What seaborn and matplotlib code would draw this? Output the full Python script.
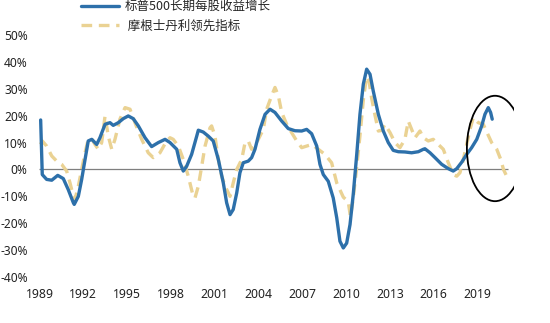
import matplotlib
matplotlib.use("Agg")
import matplotlib.pyplot as plt
from matplotlib.patches import Ellipse
import seaborn as sns
import pandas as pd

# S&P 500 long-term EPS growth (yoy, %)
eps_years = [1989.08, 1989.19, 1989.49, 1989.84, 1990.25, 1990.63, 1990.97, 1991.32, 1991.38,
             1991.66, 1991.89, 1992.12, 1992.34, 1992.58, 1992.92, 1993.14, 1993.49, 1993.83,
             1994.05, 1994.40, 1994.74, 1995.08, 1995.42, 1995.77, 1996.23, 1996.68, 1997.14,
             1997.60, 1997.94, 1998.40, 1998.62, 1998.85, 1999.08, 1999.42, 1999.77, 1999.88,
             2000.22, 2000.56, 2000.90, 2001.25, 2001.59, 2001.82, 2002.05, 2002.27, 2002.51,
             2002.73, 2002.96, 2003.30, 2003.53, 2003.76, 2004.10, 2004.45, 2004.79, 2005.13,
             2005.59, 2006.04, 2006.50, 2006.96, 2007.30, 2007.64, 2007.99, 2008.21, 2008.44,
             2008.78, 2009.12, 2009.36, 2009.58, 2009.81, 2010.04, 2010.27, 2010.49, 2010.73,
             2010.95, 2011.18, 2011.41, 2011.64, 2011.86, 2012.21, 2012.55, 2012.89, 2013.23,
             2013.58, 2014.03, 2014.49, 2014.95, 2015.29, 2015.40, 2015.75, 2016.09, 2016.55,
             2017.00, 2017.34, 2017.58, 2017.92, 2018.26, 2018.60, 2018.95, 2019.29, 2019.51,
             2019.74, 2019.90, 2020.01]
eps_growth = [18.4, -1.9, -3.7, -4.0, -2.2, -3.4, -7.5, -12.4, -13.0,
              -10.0, -3.7, 3.7, 10.6, 11.2, 9.3, 11.8, 16.8, 17.4,
              16.4, 17.4, 18.9, 19.9, 18.9, 16.2, 11.8, 8.5, 10.0,
              11.2, 10.0, 7.5, 2.5, -0.6, 1.2, 5.6, 12.4, 14.6,
              13.9, 12.4, 10.6, 3.7, -5.0, -12.4, -16.8, -14.9, -8.7,
              -1.2, 2.5, 3.1, 4.4, 7.5, 14.9, 20.5, 22.4, 21.2,
              18.0, 15.2, 14.4, 14.3, 14.9, 13.3, 8.7, 1.9, -1.9,
              -4.4, -10.6, -18.0, -26.7, -29.2, -27.4, -20.5, -9.3, 5.6,
              20.5, 31.7, 37.3, 35.4, 29.2, 20.5, 14.3, 10.0, 7.1,
              6.6, 6.5, 6.2, 6.6, 7.5, 7.7, 6.2, 4.4, 1.9,
              0.3, -0.6, 0.3, 2.7, 5.6, 8.1, 11.2, 16.2, 20.5,
              23.0, 21.2, 18.7]

# Morgan Stanley leading indicator (%)
lead_years = [1989.08, 1989.19, 1989.49, 1989.84, 1990.18, 1990.52, 1990.86, 1991.09, 1991.32,
              1991.43, 1991.66, 1991.89, 1992.12, 1992.34, 1992.58, 1992.80, 1993.03, 1993.26,
              1993.49, 1993.71, 1993.95, 1994.17, 1994.51, 1994.86, 1995.20, 1995.54, 1996.00,
              1996.45, 1996.79, 1997.25, 1997.71, 1997.94, 1998.16, 1998.51, 1998.85, 1999.19,
              1999.53, 1999.65, 1999.88, 2000.11, 2000.34, 2000.68, 2000.79, 2001.02, 2001.25,
              2001.48, 2001.71, 2002.05, 2002.27, 2002.51, 2002.85, 2003.08, 2003.30, 2003.53,
              2003.76, 2004.10, 2004.33, 2004.56, 2004.90, 2005.13, 2005.36, 2005.59, 2005.93,
              2006.27, 2006.62, 2006.96, 2007.30, 2007.66, 2008.10, 2008.55, 2009.01, 2009.36,
              2009.81, 2010.15, 2010.30, 2010.47, 2010.71, 2010.95, 2011.18, 2011.40, 2011.58,
              2011.75, 2011.98, 2012.21, 2012.44, 2012.66, 2013.01, 2013.35, 2013.69, 2014.03,
              2014.26, 2014.49, 2014.72, 2015.06, 2015.29, 2015.63, 2015.97, 2016.32, 2016.66,
              2017.00, 2017.34, 2017.58, 2017.80, 2018.03, 2018.26, 2018.49, 2018.71, 2019.05,
              2019.40, 2019.63, 2019.97, 2020.32, 2020.61, 2020.78, 2021.00]
lead_value = [9.3, 10.6, 8.7, 5.0, 3.1, 1.9, -0.6, -5.0, -10.0,
              -11.2, -6.2, 0.0, 6.2, 11.2, 11.4, 9.3, 7.5, 10.0,
              19.9, 12.4, 7.5, 11.2, 18.7, 23.0, 22.4, 17.4, 11.2,
              6.2, 4.4, 6.2, 10.6, 11.8, 11.2, 8.7, 3.7, -2.5,
              -10.0, -10.6, -6.2, 1.2, 8.7, 15.5, 16.2, 12.4, 3.7,
              -2.5, -6.2, -10.0, -5.0, 0.0, 3.7, 10.0, 10.6, 7.5,
              8.7, 12.4, 14.9, 22.4, 27.4, 30.5, 27.4, 21.2, 16.8,
              13.7, 10.6, 8.1, 8.7, 9.3, 7.5, 5.6, 2.5, -5.0,
              -10.3, -12.0, -17.6, -11.5, 0.0, 12.5, 25.8, 34.5, 32.5,
              26.5, 20.2, 14.3, 14.5, 16.8, 13.7, 10.0, 8.1, 11.2,
              18.0, 14.9, 11.8, 14.3, 11.8, 10.6, 11.2, 9.3, 7.5,
              2.5, -1.9, -2.5, -1.2, 3.7, 9.3, 14.9, 19.3, 17.4,
              16.8, 14.0, 10.0, 7.5, 3.5, 0.0, -2.5]

year_ticks = [1989, 1992, 1995, 1998, 2001, 2004, 2007, 2010, 2013, 2016, 2019]
pct_ticks = [50, 40, 30, 20, 10, 0, -10, -20, -30, -40]

eps_label = "标普500长期每股收益增长"
lead_label = " 摩根士丹利领先指标"

sns.set_style("white")
plt.rcParams["font.family"] = ["Noto Sans CJK SC", "DejaVu Sans"]

eps_df = pd.DataFrame({"year": eps_years, "value": eps_growth})
lead_df = pd.DataFrame({"year": lead_years, "value": lead_value})

fig = plt.figure(figsize=(5.5, 3.23), dpi=100)
ax = fig.add_axes([0.0718, 0.1424, 0.8627, 0.7492])

sns.lineplot(data=eps_df, x="year", y="value", ax=ax, color="#2D70AA",
             linewidth=2.4, sort=False, label=eps_label, zorder=3)
sns.lineplot(data=lead_df, x="year", y="value", ax=ax, color="#EAD293",
             linewidth=2.4, sort=False, label=lead_label, zorder=2,
             dashes=False, linestyle=(0, (3.2, 2.0)))

ax.hlines(0, 1989, 2021.1, color="#7f7f7f", linewidth=0.9, zorder=1)

ax.add_patch(Ellipse((2020.2, 7.8), width=3.85, height=39.2, fill=False,
                     edgecolor="black", linewidth=1.3, zorder=4))

ax.set_xlim(1989, 2021.5)
ax.set_ylim(-40, 50)
ax.set_xticks(year_ticks)
ax.set_xticklabels([str(y) for y in year_ticks], fontsize=8.8, color="#222222",
                   family=["Noto Sans", "DejaVu Sans"])
ax.set_yticks(pct_ticks)
ax.set_yticklabels([f"{v}%" for v in pct_ticks], fontsize=8.6, color="#222222",
                   family=["Noto Sans", "DejaVu Sans"])
ax.tick_params(axis="both", length=0)
ax.tick_params(axis="x", pad=8)
ax.tick_params(axis="y", pad=8.5)
ax.set_xlabel("")
ax.set_ylabel("")
for s in ax.spines.values():
    s.set_visible(False)

ax.get_legend().remove()
handles, labels = ax.get_legend_handles_labels()
fig.legend(handles, labels, loc="upper left", bbox_to_anchor=(0.148, 1.0),
           frameon=False, fontsize=9, handlelength=3.0, handletextpad=0.5,
           labelspacing=0.52, borderaxespad=0, borderpad=0)

fig.savefig("out.png", dpi=100)
